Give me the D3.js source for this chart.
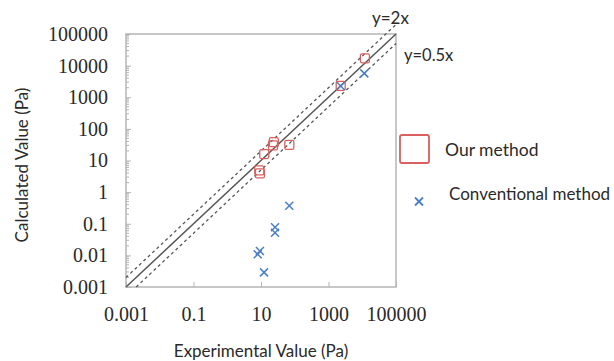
<!DOCTYPE html>
<html><head><meta charset="utf-8">
<script src="https://cdn.jsdelivr.net/npm/d3@7"></script>
<style>body{margin:0;background:#fff}</style>
</head><body>
<svg id="c" width="614" height="361"></svg>
<script>
const xTickLabels = [0.001, 0.1, 10, 1000, 100000];
const yTickLabels = [0.001, 0.01, 0.1, 1, 10, 100, 1000, 10000, 100000];
const ourX = [8.9, 9.3, 12.5, 22.7, 24, 69, 2300, 12000];
const ourY = [4.9, 3.9, 16, 30, 38, 31, 2300, 17000];
const convX = [69, 26, 26, 9.3, 8.0, 12.3, 2300, 11500];
const convY = [0.37, 0.077, 0.052, 0.0137, 0.0108, 0.0029, 2270, 5700];
const seriesNames = ["Our method", "Conventional method"];
const refLines = [{k: 2, label: "y=2x"}, {k: 1, label: ""}, {k: 0.5, label: "y=0.5x"}];

const svg = d3.select("#c");
const m = {l: 126, t: 34, w: 270, h: 253};
const x = d3.scaleLog().domain([0.001, 100000]).range([m.l, m.l + m.w]);
const y = d3.scaleLog().domain([0.001, 100000]).range([m.t + m.h, m.t]);
const axisCol = "#b5b5b5";
const lineCol = "#555";
const txtCol = "#2a2a2a";

// y minor ticks
const yMinor = [];
for (let e = -3; e < 5; e++) for (let k = 2; k <= 9; k++) yMinor.push(k * Math.pow(10, e));
svg.append("g").selectAll("line").data(yMinor).join("line")
  .attr("x1", m.l).attr("x2", m.l + 3)
  .attr("y1", d => y(d)).attr("y2", d => y(d))
  .attr("stroke", axisCol).attr("stroke-width", 1);

// y axis
const yAxis = d3.axisLeft(y).tickValues(yTickLabels).tickSize(-5).tickPadding(18)
  .tickFormat(d => String(+d.toPrecision(1)));
const gy = svg.append("g").attr("transform", `translate(${m.l},0)`).call(yAxis);
gy.select(".domain").remove();
gy.selectAll(".tick line").attr("stroke", axisCol);
gy.selectAll("text").attr("font-family", "Liberation Serif").attr("font-size", 20).attr("fill", txtCol);

// x axis
const xAxis = d3.axisBottom(x).tickValues(xTickLabels).tickSize(-5).tickPadding(20)
  .tickFormat(d => String(+d.toPrecision(1)));
const gx = svg.append("g").attr("transform", `translate(0,${m.t + m.h})`).call(xAxis);
gx.select(".domain").remove();
gx.selectAll(".tick line").attr("stroke", axisCol);
gx.selectAll("text").attr("font-family", "Liberation Serif").attr("font-size", 20).attr("fill", txtCol);

// frame
svg.append("rect").attr("x", m.l).attr("y", m.t).attr("width", m.w).attr("height", m.h)
  .attr("fill", "none").attr("stroke", axisCol).attr("stroke-width", 1.5);

// reference lines
refLines.forEach(r => {
  const x0 = Math.max(0.001, 0.001 / r.k);
  const x1 = 100000;
  svg.append("line")
    .attr("x1", x(x0)).attr("y1", y(r.k * x0))
    .attr("x2", x(x1)).attr("y2", y(r.k * x1))
    .attr("stroke", lineCol).attr("stroke-width", r.k === 1 ? 1.5 : 1.3)
    .attr("stroke-dasharray", r.k === 1 ? null : "3,3");
});
svg.append("text").attr("x", 372).attr("y", 24).text(refLines[0].label)
  .attr("font-family", "Lato").attr("font-size", 17).attr("fill", txtCol);
svg.append("text").attr("x", 404).attr("y", 61).text(refLines[2].label)
  .attr("font-family", "Lato").attr("font-size", 16.5).attr("fill", txtCol);

// our method
const red = "#d9605e";
svg.append("g").selectAll("rect").data(ourX.map((v, i) => [v, ourY[i]])).join("rect")
  .attr("x", d => x(d[0]) - 4.5).attr("y", d => y(d[1]) - 4.5)
  .attr("width", 9).attr("height", 9).attr("rx", 1.5)
  .attr("fill", "none").attr("stroke", red).attr("stroke-width", 1.3);

// conventional
const blue = "#4a7ec7";
const cross = (g, cx, cy, s) => {
  g.append("line").attr("x1", cx - s).attr("y1", cy - s).attr("x2", cx + s).attr("y2", cy + s);
  g.append("line").attr("x1", cx - s).attr("y1", cy + s).attr("x2", cx + s).attr("y2", cy - s);
};
const gc = svg.append("g").attr("stroke", blue).attr("stroke-width", 1.5);
convX.forEach((v, i) => cross(gc, x(v), y(convY[i]), 4));

// legend
svg.append("rect").attr("x", 400).attr("y", 135).attr("width", 29).attr("height", 28).attr("rx", 2)
  .attr("fill", "none").attr("stroke", red).attr("stroke-width", 1.8);
svg.append("text").attr("x", 445).attr("y", 156).text(seriesNames[0])
  .attr("font-family", "Lato").attr("font-size", 17.5).attr("fill", txtCol);
const lc = svg.append("g").attr("stroke", blue).attr("stroke-width", 1.8);
cross(lc, 419, 201.5, 4);
svg.append("text").attr("x", 449).attr("y", 200).text(seriesNames[1])
  .attr("font-family", "Lato").attr("font-size", 17).attr("fill", txtCol);

// axis titles
svg.append("text").attr("x", 261).attr("y", 357).attr("text-anchor", "middle")
  .text("Experimental Value (Pa)").attr("font-family", "Lato").attr("font-size", 17).attr("fill", txtCol);
svg.append("text").attr("transform", "translate(28,165) rotate(-90)").attr("text-anchor", "middle")
  .text("Calculated Value (Pa)").attr("font-family", "Lato").attr("font-size", 17).attr("fill", txtCol);
</script>
</body></html>
